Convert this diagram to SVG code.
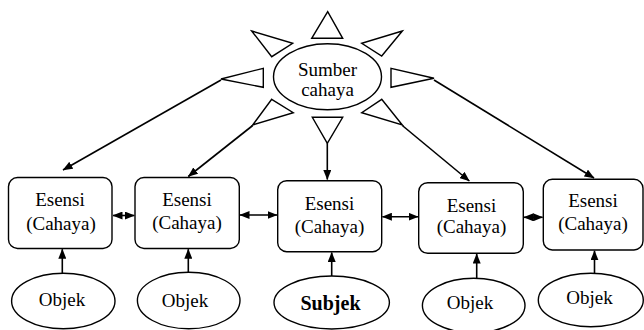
<svg xmlns="http://www.w3.org/2000/svg" width="644" height="330" viewBox="0 0 644 330">
<style>
  .shape { fill: #ffffff; stroke: #000000; stroke-width: 1.4; }
  .ray { fill: #ffffff; stroke: #000000; stroke-width: 1.4; stroke-linejoin: miter; }
  text { font-family: 'Liberation Serif', 'Times New Roman', serif; font-size: 19px; fill: #000000; text-anchor: middle; }
  .bold { font-weight: bold; font-size: 20px; }
  .conn { stroke: #000000; stroke-width: 1.6; fill: none; }
</style>
<defs>
  <marker id="ah" viewBox="0 0 10 8" refX="9.5" refY="4" markerWidth="10" markerHeight="8" markerUnits="userSpaceOnUse" orient="auto-start-reverse">
    <path d="M0,0 L10,4 L0,8 z" fill="#000000"/>
  </marker>
</defs>
<rect width="644" height="330" fill="#ffffff"/>

<g id="sun">
  <polygon class="ray" points="327.7,11.7 311.7,38.3 342.7,38.3"/>
  <polygon class="ray" points="251.7,31 292.7,43.3 271.7,56.7"/>
  <polygon class="ray" points="402.3,31 361.7,43.3 381.7,56"/>
  <polygon class="ray" points="263.3,68.3 263.3,87.3 221,79"/>
  <polygon class="ray" points="391,68.3 391,87.3 434,78.3"/>
  <polygon class="ray" points="271.7,99.3 293.3,112.7 252.7,125"/>
  <polygon class="ray" points="381.7,99.3 361.7,112.7 402.3,125"/>
  <polygon class="ray" points="312.3,117.3 342.7,117.3 327.3,143.3"/>
  <ellipse class="shape" cx="327.5" cy="76.7" rx="54" ry="33"/>
  <text x="327.5" y="75.5">Sumber</text>
  <text x="327.5" y="96">cahaya</text>
</g>

<g id="esensi1">
  <rect class="shape" x="8.5" y="177.5" width="103.5" height="71" rx="9"/>
  <text x="60" y="206">Esensi</text>
  <text x="61" y="230">(Cahaya)</text>
</g>
<g id="esensi2">
  <rect class="shape" x="135" y="177.5" width="104.3" height="71" rx="9"/>
  <text x="187" y="205.5">Esensi</text>
  <text x="187" y="229">(Cahaya)</text>
</g>
<g id="esensi3">
  <rect class="shape" x="277.7" y="180.7" width="104" height="71" rx="9"/>
  <text x="329.5" y="209.5">Esensi</text>
  <text x="329.5" y="233">(Cahaya)</text>
</g>
<g id="esensi4">
  <rect class="shape" x="418.7" y="182.7" width="104.6" height="70.6" rx="9"/>
  <text x="471.5" y="211.5">Esensi</text>
  <text x="471.5" y="233">(Cahaya)</text>
</g>
<g id="esensi5">
  <rect class="shape" x="543.3" y="179.3" width="99.7" height="70.7" rx="9"/>
  <text x="593" y="206.5">Esensi</text>
  <text x="593" y="230">(Cahaya)</text>
</g>

<g id="objek1">
  <ellipse class="shape" cx="63.3" cy="301" rx="51.7" ry="27.8"/>
  <text x="62" y="305.5">Objek</text>
</g>
<g id="objek2">
  <ellipse class="shape" cx="188.7" cy="300.5" rx="51.3" ry="28.3"/>
  <text x="185" y="306.5">Objek</text>
</g>
<g id="subjek">
  <ellipse class="shape" cx="331.7" cy="302.5" rx="57.7" ry="26.5"/>
  <text class="bold" x="330.5" y="310">Subjek</text>
</g>
<g id="objek4">
  <ellipse class="shape" cx="473.7" cy="305.5" rx="51.3" ry="27.2"/>
  <text x="470" y="309">Objek</text>
</g>
<g id="objek5">
  <ellipse class="shape" cx="590.8" cy="300" rx="52.5" ry="26.7"/>
  <text x="589.5" y="304">Objek</text>
</g>

<g id="connectors">
  <line class="conn" x1="221" y1="80" x2="63" y2="170" marker-end="url(#ah)"/>
  <line class="conn" x1="252.7" y1="125.5" x2="188.3" y2="176.5" marker-end="url(#ah)"/>
  <line class="conn" x1="327.3" y1="143.3" x2="327.3" y2="179.5" marker-end="url(#ah)"/>
  <line class="conn" x1="402.3" y1="125.5" x2="469.3" y2="181" marker-end="url(#ah)"/>
  <line class="conn" x1="434" y1="80" x2="594" y2="178" marker-end="url(#ah)"/>

  <line class="conn" x1="113" y1="215.5" x2="134.3" y2="215.5" marker-start="url(#ah)" marker-end="url(#ah)"/>
  <line class="conn" x1="240" y1="215" x2="277" y2="215" marker-start="url(#ah)" marker-end="url(#ah)"/>
  <line class="conn" x1="382.4" y1="216.7" x2="418" y2="216.7" marker-start="url(#ah)" marker-end="url(#ah)"/>
  <line class="conn" x1="524" y1="217.3" x2="542.6" y2="217.3" marker-start="url(#ah)" marker-end="url(#ah)"/>

  <line class="conn" x1="62.3" y1="273.2" x2="62.3" y2="249.2" marker-end="url(#ah)"/>
  <line class="conn" x1="188.3" y1="272.2" x2="188.3" y2="249.2" marker-end="url(#ah)"/>
  <line class="conn" x1="331.7" y1="276" x2="331.7" y2="252.5" marker-end="url(#ah)"/>
  <line class="conn" x1="476.7" y1="278.3" x2="476.7" y2="254" marker-end="url(#ah)"/>
  <line class="conn" x1="594.5" y1="273.3" x2="594.5" y2="250.8" marker-end="url(#ah)"/>
</g>
</svg>
